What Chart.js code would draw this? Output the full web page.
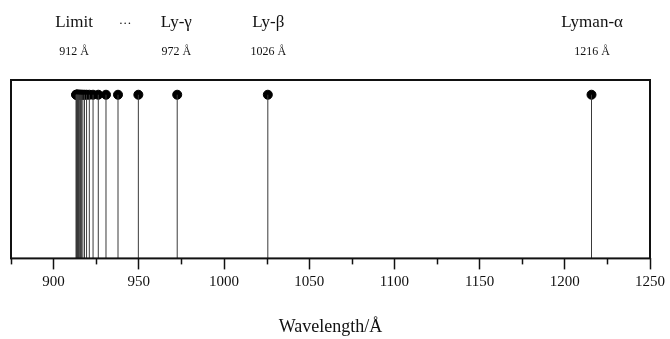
<!DOCTYPE html>
<html>
<head>
<meta charset="utf-8">
<script src="https://cdn.jsdelivr.net/npm/chart.js@4"></script>
<style>
  html, body { margin: 0; padding: 0; background: #fff; }
  #wrap { width: 670px; height: 339px; }
</style>
</head>
<body>
<div id="wrap"><canvas id="lyChart"></canvas></div>
<script>
// Lyman series line positions (Angstrom), n = 2 ... 25
const wavelengths = [1215.67, 1025.72, 972.54, 949.74, 937.80, 930.75, 926.23, 923.15,
  920.96, 919.35, 918.13, 917.18, 916.43, 915.82, 915.33, 914.92, 914.58, 914.29, 914.04,
  913.83, 913.65, 913.48, 913.34, 913.21];
const lineHeight = 1;

// labels on top
const topNames = ['Limit', '\u00b7\u00b7\u00b7', 'Ly-\u03b3', 'Ly-\u03b2', 'Lyman-\u03b1'];
const topPos = [912, 942, 972, 1026, 1216];
const topSub = ['912 \u00c5', '', '972 \u00c5', '1026 \u00c5', '1216 \u00c5'];

const xMin = 875, xMax = 1250;
const majorStep = 50, minorStep = 25;

// stems: pairs of points with gaps between
const stemData = [];
wavelengths.forEach(w => {
  stemData.push({ x: w, y: 0 });
  stemData.push({ x: w, y: lineHeight });
  stemData.push({ x: w, y: null });
});
const dotData = wavelengths.map(w => ({ x: w, y: lineHeight }));

const serif = "'Liberation Serif', 'Times New Roman', serif";

const extras = {
  id: 'extras',
  afterDraw(chart) {
    const { ctx, chartArea: a, scales } = chart;
    const xs = scales.x;
    ctx.save();
    // frame
    ctx.strokeStyle = '#111';
    ctx.lineWidth = 2;
    ctx.strokeRect(a.left, a.top, a.right - a.left, a.bottom - a.top);
    // minor ticks
    ctx.lineWidth = 1.5;
    for (let v = xMin; v <= xMax; v += minorStep) {
      if (v % majorStep === 0) continue;
      const px = Math.round(xs.getPixelForValue(v)) + 0.5;
      ctx.beginPath();
      ctx.moveTo(px, a.bottom);
      ctx.lineTo(px, a.bottom + 6);
      ctx.stroke();
    }
    // top labels
    ctx.fillStyle = '#111';
    ctx.textAlign = 'center';
    ctx.textBaseline = 'alphabetic';
    topNames.forEach((name, i) => {
      const px = xs.getPixelForValue(topPos[i]);
      ctx.font = (topSub[i] ? '17px ' : '13px ') + serif;
      ctx.fillText(name, px, a.top - 53);
      if (topSub[i]) {
        ctx.font = '12px ' + serif;
        ctx.fillText(topSub[i], px, a.top - 25);
      }
    });
    ctx.restore();
  }
};

new Chart(document.getElementById('lyChart'), {
  type: 'scatter',
  data: {
    datasets: [
      {
        type: 'line',
        data: stemData,
        borderColor: '#3a3a3a',
        borderWidth: 1,
        pointRadius: 0,
        spanGaps: false,
        fill: false
      },
      {
        data: dotData,
        backgroundColor: '#000',
        borderColor: '#000',
        pointRadius: 4.5
      }
    ]
  },
  options: {
    responsive: true,
    maintainAspectRatio: false,
    animation: false,
    layout: { padding: { top: 80, left: 11, right: 20, bottom: 1 } },
    plugins: { legend: { display: false }, tooltip: { enabled: false } },
    scales: {
      x: {
        type: 'linear',
        min: xMin,
        max: xMax,
        border: { display: false },
        grid: {
          drawOnChartArea: false,
          tickLength: 11,
          tickWidth: 1.5,
          tickColor: c => (c.tick && c.tick.value % majorStep === 0) ? '#111' : 'rgba(0,0,0,0)'
        },
        ticks: {
          stepSize: minorStep,
          autoSkip: false,
          maxRotation: 0,
          padding: 4,
          color: '#111',
          font: { family: serif, size: 15 },
          callback: v => (v % majorStep === 0 ? String(v) : '')
        },
        title: {
          display: true,
          text: 'Wavelength/\u00c5',
          color: '#111',
          font: { family: serif, size: 18 },
          padding: { top: 21, bottom: 0 }
        }
      },
      y: {
        display: false,
        min: 0,
        max: 1.09
      }
    }
  },
  plugins: [extras]
});
</script>
</body>
</html>
